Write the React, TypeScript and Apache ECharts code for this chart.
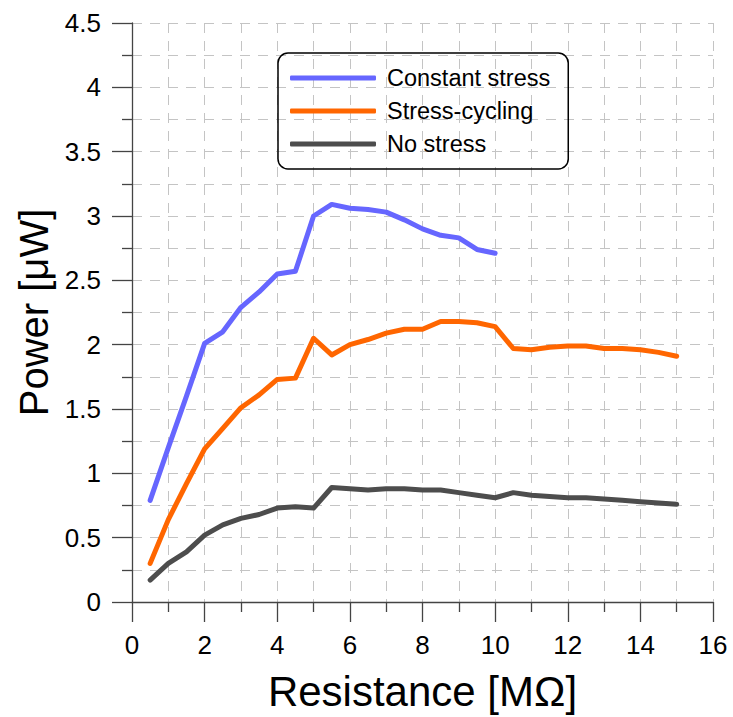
import React, { useEffect, useRef } from "react";
import * as echarts from "echarts";

const resistanceShort = [0.5, 1, 1.5, 2, 2.5, 3, 3.5, 4, 4.5, 5, 5.5, 6, 6.5, 7, 7.5, 8, 8.5, 9, 9.5, 10];
const resistanceLong = [0.5, 1, 1.5, 2, 2.5, 3, 3.5, 4, 4.5, 5, 5.5, 6, 6.5, 7, 7.5, 8, 8.5, 9, 9.5, 10, 10.5, 11, 11.5, 12, 12.5, 13, 13.5, 14, 14.5, 15];

const constantStress = [0.79, 1.2, 1.6, 2.01, 2.1, 2.29, 2.41, 2.55, 2.57, 3.0, 3.09, 3.06, 3.05, 3.03, 2.97, 2.9, 2.85, 2.83, 2.74, 2.71];
const stressCycling = [0.3, 0.64, 0.92, 1.19, 1.35, 1.51, 1.61, 1.73, 1.74, 2.05, 1.92, 2.0, 2.04, 2.09, 2.12, 2.12, 2.18, 2.18, 2.17, 2.14, 1.97, 1.96, 1.98, 1.99, 1.99, 1.97, 1.97, 1.96, 1.94, 1.91];
const noStress = [0.17, 0.3, 0.39, 0.52, 0.6, 0.65, 0.68, 0.73, 0.74, 0.73, 0.89, 0.88, 0.87, 0.88, 0.88, 0.87, 0.87, 0.85, 0.83, 0.81, 0.85, 0.83, 0.82, 0.81, 0.81, 0.8, 0.79, 0.78, 0.77, 0.76];

const seriesNames = ["Constant stress", "Stress-cycling", "No stress"];
const seriesColors = ["#6666ff", "#ff6600", "#4d4d4d"];

const pair = (xs: number[], ys: number[]) => ys.map((y, i) => [xs[i], y]);

export default function App() {
  const ref = useRef<HTMLDivElement>(null);
  useEffect(() => {
    if (!ref.current) return;
    const chart = echarts.init(ref.current, undefined, { renderer: "svg" });
    const font = "'Liberation Sans', Arial, sans-serif";
    const gridLine = { show: true, lineStyle: { color: "#c4c4c4", width: 1, type: [10, 8] as any } };
    const axisLine = { show: true, onZero: false, lineStyle: { color: "#444", width: 1.3 } };
    const mkLine = (name: string, color: string, data: number[][]) => ({
      name,
      type: "line",
      data,
      showSymbol: false,
      symbol: "none",
      smooth: false,
      color,
      lineStyle: { width: 5, color, cap: "round", join: "round" },
    });
    chart.setOption({
      animation: false,
      backgroundColor: "#ffffff",
      textStyle: { fontFamily: font },
      grid: { left: 132, right: 20, top: 23, bottom: 113, containLabel: false },
      legend: {
        orient: "vertical",
        left: 278,
        top: 53,
        padding: [13, 18, 13, 12],
        itemGap: 9,
        itemWidth: 86,
        itemHeight: 5,
        icon: "roundRect",
        borderColor: "#000",
        borderWidth: 1.5,
        borderRadius: 10,
        textStyle: { fontSize: 23.5, color: "#000", fontFamily: font, padding: [0, 0, 0, 6] },
        data: seriesNames,
      },
      xAxis: {
        type: "value",
        min: 0,
        max: 16,
        interval: 2,
        name: "Resistance [MΩ]",
        nameLocation: "middle",
        nameGap: 68,
        nameTextStyle: { fontSize: 42, color: "#000", fontFamily: font },
        axisLine,
        axisTick: { show: true, inside: false, length: 20, lineStyle: { color: "#444", width: 1.3 } },
        minorTick: { show: true, splitNumber: 2, length: 10, lineStyle: { color: "#444", width: 1.3 } },
        axisLabel: { fontSize: 26, color: "#000", margin: 30, fontFamily: font },
        splitLine: gridLine,
        minorSplitLine: gridLine,
      },
      yAxis: {
        type: "value",
        min: 0,
        max: 4.5,
        interval: 0.5,
        name: "Power [μW]",
        nameLocation: "middle",
        nameGap: 78,
        nameTextStyle: { fontSize: 40, color: "#000", fontFamily: font },
        axisLine,
        axisTick: { show: true, inside: false, length: 20, lineStyle: { color: "#444", width: 1.3 } },
        minorTick: { show: true, splitNumber: 2, length: 10, lineStyle: { color: "#444", width: 1.3 } },
        axisLabel: { fontSize: 26, color: "#000", margin: 31, fontFamily: font },
        splitLine: gridLine,
        minorSplitLine: gridLine,
      },
      series: [
        mkLine(seriesNames[0], seriesColors[0], pair(resistanceShort, constantStress)),
        mkLine(seriesNames[1], seriesColors[1], pair(resistanceLong, stressCycling)),
        mkLine(seriesNames[2], seriesColors[2], pair(resistanceLong, noStress)),
      ],
    });
    return () => chart.dispose();
  }, []);
  return <div ref={ref} style={{ position: "absolute", left: 0, top: 0, width: 733, height: 717 }} />;
}
